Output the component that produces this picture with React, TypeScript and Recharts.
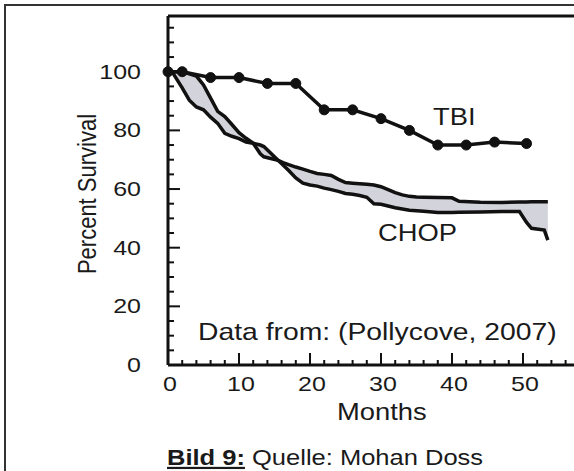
import React from "react";
import { ComposedChart, Line, Area, XAxis, YAxis } from "recharts";

// TBI arm: dots joined by straight segments
const tbiMonths = [0, 2, 6, 10, 14, 18, 22, 26, 30, 34, 38, 42, 46, 50.5];
const tbiSurvival = [100, 100, 98, 98, 96, 96, 87, 87, 84, 80, 75, 75, 76, 75.5];

// CHOP arm: two curves with a grey band between them
const chopMonths = [
  0, 0.7, 2, 3, 4, 5, 6, 7, 8, 9, 10, 11, 12, 13, 13.5, 15.5, 16.2, 17, 18, 19, 20, 21, 22, 23, 24,
  25, 26, 27, 28, 29, 30, 31, 32, 33, 34, 35, 36, 38, 40, 41, 44, 47, 49.5, 50.5, 51.2, 53, 53.5,
];
const chopHigh = [
  100, 100, 100, 99.3, 98.5, 95.5, 91, 86.5, 84.7, 82, 79.2, 77.3, 75.6, 75, 74.5, 69.8, 69, 68.3,
  67.5, 66.8, 66, 65.3, 65, 64.6, 63.3, 62.2, 62, 61.8, 61.6, 61.4, 60.8, 59.8, 58.8, 58, 57.5,
  57.3, 57.2, 57.1, 57, 55.8, 55.5, 55.4, 55.6, 55.6, 55.7, 55.7, 55.7,
];
const chopLow = [
  100, 99.5, 94.5, 90.3, 88, 87, 84.5, 82.4, 79, 78, 77.2, 76, 75.6, 72, 71, 69.8, 68.2, 66.3,
  63.8, 62, 61.4, 61, 60.3, 59.8, 59.2, 58.5, 58.2, 57.8, 57.2, 55, 54.8, 54.2, 53.6, 53.2, 52.8,
  52.6, 52.4, 52, 52, 52.1, 52.2, 52.3, 52.3, 48.6, 46.6, 46, 42.6,
];

const xTicks = [
  0, 2, 4, 6, 8, 10, 12, 14, 16, 18, 20, 22, 24, 26, 28, 30, 32, 34, 36, 38, 40, 42, 44, 46, 48,
  50, 52, 54, 56, 58, 60,
];
const xLabels = [0, 10, 20, 30, 40, 50];
const yTicks = [0, 5, 10, 15, 20, 25, 30, 35, 40, 45, 50, 55, 60, 65, 70, 75, 80, 85, 90, 95, 100, 105, 110, 115];
const yLabels = [0, 20, 40, 60, 80, 100];

const tbiData = tbiMonths.map((m, i) => ({ m, v: tbiSurvival[i] }));
const chopData = chopMonths.map((m, i) => ({
  m,
  hi: chopHigh[i],
  lo: chopLow[i],
  band: [chopLow[i], chopHigh[i]],
}));

const FONT = "'Liberation Sans', Arial, sans-serif";
const INK = "#111";

function BottomTick(props: any) {
  const { x, y, payload } = props;
  const v = payload.value;
  const major = v % 10 === 0;
  return (
    <g>
      <line x1={x} x2={x} y1={y} y2={y - (major ? 12 : 5)} stroke={INK} strokeWidth={2} />
      {xLabels.includes(v) && (
        <text
          transform={`translate(${x + 2},${y + 26}) scale(1.19,1)`}
          textAnchor="middle"
          fontFamily={FONT}
          fontSize={21}
          fill="#1a1a1a"
        >
          {v}
        </text>
      )}
    </g>
  );
}

function TopTick(props: any) {
  const { x, y, payload } = props;
  const major = payload.value % 10 === 0;
  return <line x1={x} x2={x} y1={y} y2={y + (major ? 11 : 5)} stroke={INK} strokeWidth={2} />;
}

function LeftTick(props: any) {
  const { x, y, payload } = props;
  const v = payload.value;
  const major = v % 20 === 0;
  return (
    <g>
      <line x1={x} x2={x + (major ? 12 : 6)} y1={y} y2={y} stroke={INK} strokeWidth={2} />
      {yLabels.includes(v) && (
        <text
          transform={`translate(${x - 27},${y + 7}) scale(1.19,1)`}
          textAnchor="end"
          fontFamily={FONT}
          fontSize={21}
          fill="#1a1a1a"
        >
          {v}
        </text>
      )}
    </g>
  );
}

export default function App() {
  return (
    <div
      style={{
        position: "absolute",
        left: 0,
        top: 0,
        width: 574,
        height: 471,
        overflow: "hidden",
        background: "#fff",
      }}
    >
      <div
        style={{
          position: "absolute",
          left: 4,
          top: 4,
          width: 640,
          height: 520,
          border: "2px solid #333",
        }}
      />
      <div style={{ position: "absolute", left: 0, top: 0 }}>
        <ComposedChart
          width={600}
          height={471}
          margin={{ top: 6, right: 6, bottom: 66, left: 108 }}
        >
          <XAxis
            xAxisId="bottom"
            dataKey="m"
            type="number"
            domain={[0, 60]}
            ticks={xTicks}
            interval={0}
            height={40}
            tickSize={0}
            tickMargin={0}
            tickLine={false}
            axisLine={{ stroke: INK, strokeWidth: 3 }}
            tick={(p: any) => <BottomTick {...p} />}
          />
          <XAxis
            xAxisId="top"
            orientation="top"
            dataKey="m"
            type="number"
            domain={[0, 60]}
            ticks={xTicks}
            interval={0}
            height={10}
            tickSize={0}
            tickMargin={0}
            tickLine={false}
            axisLine={{ stroke: INK, strokeWidth: 3 }}
            tick={(p: any) => <TopTick {...p} />}
          />
          <YAxis
            type="number"
            domain={[0, 119]}
            ticks={yTicks}
            interval={0}
            width={60}
            tickSize={0}
            tickMargin={0}
            tickLine={false}
            axisLine={{ stroke: INK, strokeWidth: 3 }}
            tick={(p: any) => <LeftTick {...p} />}
          />
          <Area
            xAxisId="bottom"
            data={chopData}
            dataKey="band"
            type="linear"
            stroke="none"
            fill="#d3d3db"
            fillOpacity={1}
            isAnimationActive={false}
          />
          <Line
            xAxisId="bottom"
            data={chopData}
            dataKey="hi"
            type="linear"
            stroke={INK}
            strokeWidth={3.5}
            dot={false}
            activeDot={false}
            isAnimationActive={false}
          />
          <Line
            xAxisId="bottom"
            data={chopData}
            dataKey="lo"
            type="linear"
            stroke={INK}
            strokeWidth={3.5}
            dot={false}
            activeDot={false}
            isAnimationActive={false}
          />
          <Line
            xAxisId="bottom"
            data={tbiData}
            dataKey="v"
            type="linear"
            stroke={INK}
            strokeWidth={3.5}
            dot={{ r: 5, fill: INK, stroke: INK, strokeWidth: 1 }}
            activeDot={false}
            isAnimationActive={false}
          />
        </ComposedChart>
      </div>
      <svg
        width={574}
        height={471}
        style={{ position: "absolute", left: 0, top: 0, pointerEvents: "none" }}
      >
        <g fontFamily={FONT} fill="#1a1a1a">
          <text transform="translate(433,125) scale(1.19,1)" fontSize={23}>
            TBI
          </text>
          <text transform="translate(378,241) scale(1.19,1)" fontSize={23}>
            CHOP
          </text>
          <text transform="translate(198,340) scale(1.18,1)" fontSize={24}>
            Data from: (Pollycove, 2007)
          </text>
          <text transform="translate(337,420) scale(1.19,1)" fontSize={23}>
            Months
          </text>
          <text
            transform="translate(96,194) scale(1.19,1) rotate(-90)"
            fontSize={22}
            textAnchor="middle"
          >
            Percent Survival
          </text>
          <text transform="translate(167,465) scale(1.16,1)" fontSize={22}>
            <tspan fontWeight="bold" textDecoration="underline">
              Bild 9:
            </tspan>
            <tspan> Quelle: Mohan Doss</tspan>
          </text>
        </g>
      </svg>
    </div>
  );
}
